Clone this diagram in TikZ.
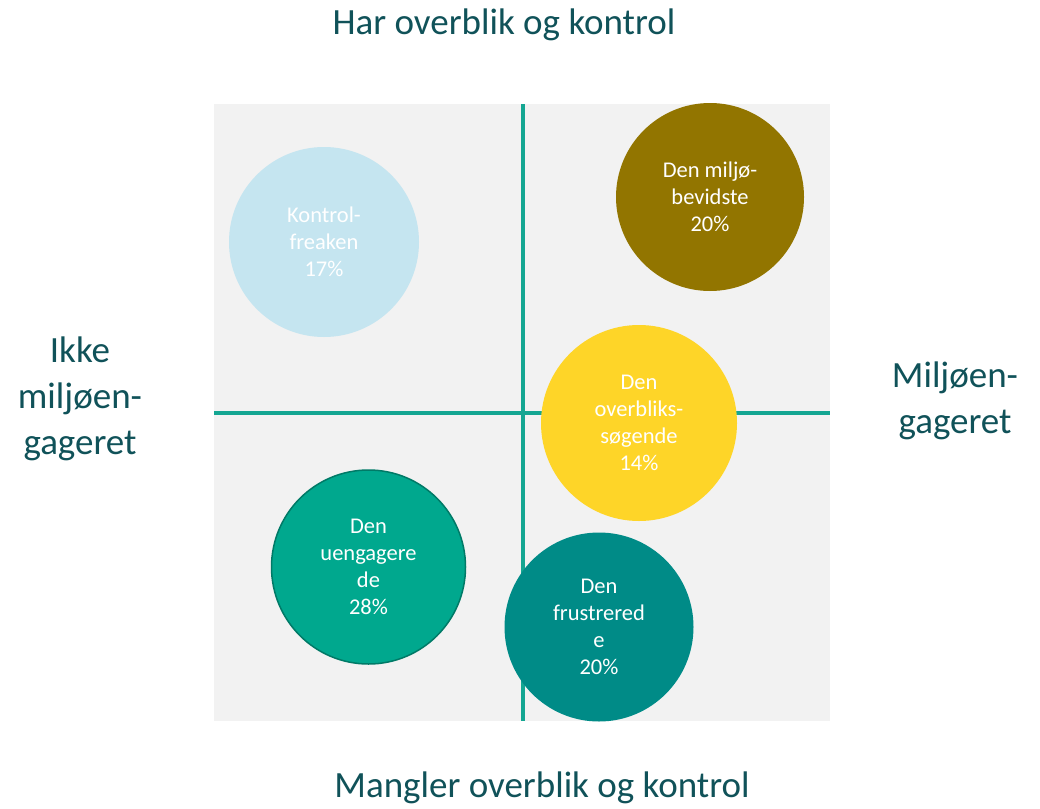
\documentclass[tikz,border=0pt]{standalone}
\usepackage{fontspec}
\setmainfont{Carlito}
\definecolor{bggray}{RGB}{242,242,242}
\definecolor{axisline}{RGB}{20,166,146}
\definecolor{labeltxt}{RGB}{16,82,89}
\definecolor{cblue}{RGB}{197,229,240}
\definecolor{colive}{RGB}{146,117,0}
\definecolor{cyellow}{RGB}{254,213,40}
\definecolor{cgreen}{RGB}{0,168,142}
\definecolor{cgreenedge}{RGB}{0,122,103}
\definecolor{cteal}{RGB}{0,139,135}
\begin{document}
\begin{tikzpicture}[x=1pt,y=-1pt,
  bubble/.style={circle,inner sep=0pt,text=white,align=center,font=\fontsize{22.5}{27}\selectfont},
  axislabel/.style={text=labeltxt,align=center,inner sep=0pt,font=\fontsize{37}{46}\selectfont},
  axis/.style={draw=axisline,line width=4pt}]
\useasboundingbox[fill=white] (0,0) rectangle (1040,808);
\node[fill=bggray,minimum width=616pt,minimum height=617pt,inner sep=0pt,anchor=north west] (bg) at (214,104) {};
\coordinate (vtop) at (522.5,104);
\coordinate (vbot) at (522.5,721);
\coordinate (hl) at (214,413);
\coordinate (hr) at (830,413);
\draw[axis] (vtop) -- (vbot);
\draw[axis] (hl) -- (hr);
\node[bubble,fill=cblue,minimum size=190pt] (kf) at (324,242) {Kontrol-\\freaken\\17\%};
\node[bubble,fill=colive,minimum size=188pt] (mb) at (710,197) {Den milj\o-\\bevidste\\20\%};
\node[bubble,fill=cyellow,minimum size=196pt] (os) at (639,423) {Den\\overbliks-\\s\o gende\\14\%};
\node[bubble,fill=cgreen,draw=cgreenedge,line width=1.5pt,minimum size=194pt] (ue) at (368.5,567) {Den\\uengagere\\de\\28\%};
\node[bubble,fill=cteal,minimum size=189pt] (fr) at (599,627) {Den\\frustrered\\e\\20\%};
\node[axislabel] (top) at (504,25) {Har overblik og kontrol};
\node[axislabel] (bottom) at (542,788) {Mangler overblik og kontrol};
\node[axislabel] (left) at (80,399) {Ikke\\milj\o en-\\gageret};
\node[axislabel] (right) at (955,401) {Milj\o en-\\gageret};
\end{tikzpicture}
\end{document}
